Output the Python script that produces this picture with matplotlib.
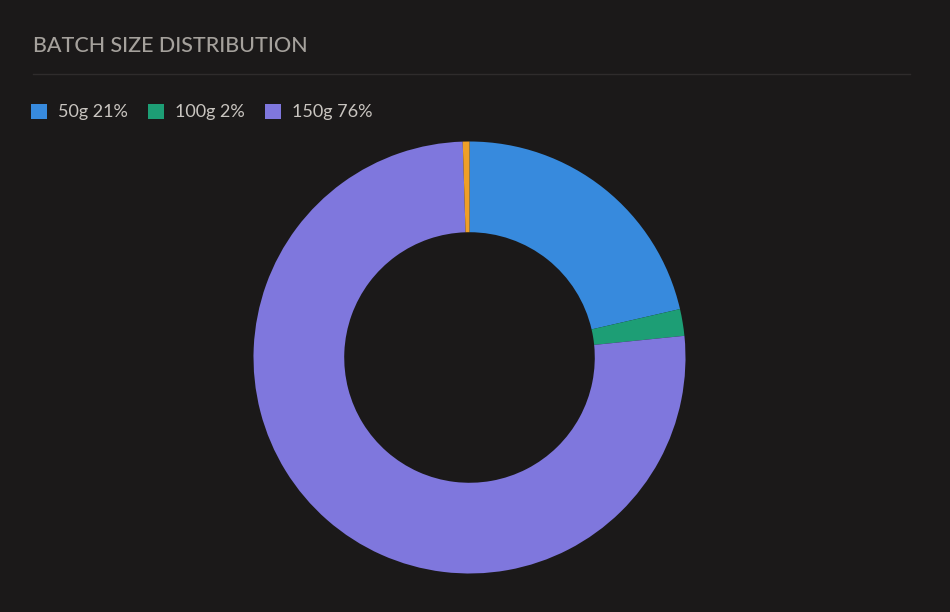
import matplotlib
matplotlib.use('agg')
import matplotlib.pyplot as plt

# batch size share (%), clockwise from 12 o'clock
sizes = ['50g', '100g', '150g', 'other']
shares = [21.4, 2.0, 76.1, 0.5]
legend_pct = [21, 2, 76]
colors = ['#378add', '#1d9e75', '#7f77dd', '#ef9f27']

bg = '#1b1919'
plt.rcParams['font.family'] = ['Lato', 'DejaVu Sans']

fig = plt.figure(figsize=(9.5, 6.12), dpi=100, facecolor=bg)

# title + separator
fig.text(33/950, 1 - 46.5/612, 'BATCH SIZE DISTRIBUTION', color='#a5a19c',
         fontsize=15.5, fontweight='medium', va='center', ha='left')
fig.add_artist(plt.Line2D([33/950, 910/950], [1 - 74/612, 1 - 74/612],
                          color='#2f2c2c', lw=1))

# donut
ax = fig.add_axes([253.5/950, (612 - 357.5 - 216)/612, 432/950, 432/612])
ax.set_facecolor(bg)
wedges, _ = ax.pie(shares, colors=colors, startangle=90, counterclock=False,
                   radius=1, wedgeprops=dict(width=0.42, linewidth=0))
ax.set_xlim(-1, 1)
ax.set_ylim(-1, 1)
ax.set_aspect('equal')
ax.axis('off')

labels = [f'{s} {p}%' for s, p in zip(sizes, legend_pct)]
fig.legend(wedges[:3], labels, loc='center left',
           bbox_to_anchor=(31/950, 1 - 112/612), ncol=3, frameon=False,
           handlelength=0.9, handleheight=0.9, handletextpad=0.6,
           columnspacing=1.1, borderaxespad=0, borderpad=0,
           fontsize=13, labelcolor='#c9c5c0')

fig.savefig('out.png', dpi=100, facecolor=bg)
